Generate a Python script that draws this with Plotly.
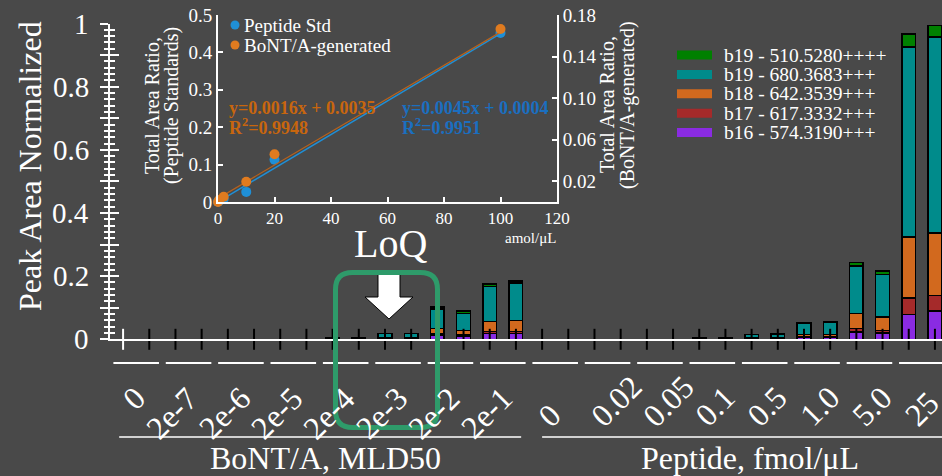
import plotly.graph_objects as go

W, H = 942, 476
def px(x): return x / W
def py(y): return 1 - y / H

FONT = "Liberation Serif"
BG = "#494949"

# ---------------- data ----------------
bont_groups = ["0", "2e-7", "2e-6", "2e-5", "2e-4", "2e-3", "2e-2", "2e-1"]
pep_groups = ["0", "0.02", "0.05", "0.1", "0.5", "1.0", "5.0", "25"]
section_labels = ["BoNT/A, MLD50", "Peptide, fmol/μL"]

series_names = ["b16 - 574.3190+++", "b17 - 617.3332+++", "b18 - 642.3539+++",
                "b19 - 680.3683+++", "b19 - 510.5280++++"]
series_colors = ["#8a2be2", "#a52a2a", "#d2691e", "#008b8b", "#008000"]

# two replicate bars per group; BoNT groups first, then peptide groups
b16_574 = [0, 0, 0, 0, 0, 0, 0, 0, 0.001, 0.001, 0.002, 0.002, 0.013, 0.009, 0.018, 0.018,
           0, 0, 0, 0, 0, 0, 0.001, 0.001, 0.002, 0.002, 0.005, 0.005, 0.023, 0.020, 0.078, 0.089]
b17_617 = [0, 0, 0, 0, 0, 0, 0, 0, 0.0005, 0.0005, 0.001, 0.001, 0.005, 0.004, 0.007, 0.007,
           0, 0, 0, 0, 0, 0, 0.0005, 0.0005, 0.001, 0.001, 0.003, 0.003, 0.011, 0.008, 0.053, 0.050]
b18_642 = [0, 0, 0, 0, 0, 0, 0, 0, 0.0005, 0.0005, 0.002, 0.002, 0.016, 0.015, 0.032, 0.035,
           0, 0, 0, 0, 0, 0, 0.0005, 0.0005, 0.002, 0.002, 0.008, 0.008, 0.047, 0.043, 0.193, 0.197]
b19_680 = [0, 0, 0, 0, 0, 0, 0, 0, 0.001, 0.001, 0.013, 0.013, 0.062, 0.053, 0.111, 0.119,
           0, 0, 0, 0, 0, 0, 0.001, 0.001, 0.010, 0.011, 0.035, 0.039, 0.151, 0.134, 0.601, 0.621]
b19_510 = [0, 0, 0, 0, 0, 0, 0, 0, 0.0005, 0.0005, 0.001, 0.001, 0.006, 0.008, 0.007, 0.005,
           0, 0, 0, 0, 0, 0, 0.0005, 0.0005, 0.001, 0.001, 0.002, 0.002, 0.011, 0.011, 0.042, 0.037]
series_values = [b16_574, b17_617, b18_642, b19_680, b19_510]

y_label_ticks = [0, 0.2, 0.4, 0.6, 0.8, 1.0]
y_label_text = ["0", "0.2", "0.4", "0.6", "0.8", "1"]
y_major_ticks = [0, 0.1, 0.2, 0.3, 0.4, 0.5, 0.6, 0.7, 0.8, 0.9, 1.0]

# inset calibration data
inset_names = ["Peptide Std", "BoNT/A-generated"]
inset_colors = ["#1f8fd6", "#e07b1f"]
conc_amol = [0, 0.4, 2, 10, 20, 100]
ratio_peptide_std = [0.001, 0.003, 0.008, 0.027, 0.113, 0.452]
ratio_bont_gen = [0.0, 0.0019, 0.0051, 0.0195, 0.0459, 0.1665]
fit_peptide_std = (0.0045, 0.0004, 0.9951)
fit_bont_gen = (0.0016, 0.0035, 0.9948)
inset_right_ticks = [0.02, 0.06, 0.10, 0.14, 0.18]

# ---------------- figure ----------------
fig = go.Figure()
groups_all = bont_groups + pep_groups
n_bars = len(b16_574)
bar_x = list(range(n_bars))
group_centers = [2 * g + 0.5 for g in range(len(groups_all))]

for name, color, vals in zip(series_names, series_colors, series_values):
    fig.add_trace(go.Bar(x=bar_x, y=vals, name=name, width=0.52,
                         marker=dict(color=color, line=dict(color="black", width=1.5)),
                         showlegend=False, hoverinfo="skip"))

# tick marks at every bar position (first one white, rest black)
tick_colors = ["white"] + ["black"] * (n_bars - 1)
fig.add_trace(go.Scatter(x=bar_x, y=[0] * n_bars, mode="markers",
                         marker=dict(symbol="line-ns", size=15, color=tick_colors,
                                     line=dict(color=tick_colors, width=2)),
                         showlegend=False, hoverinfo="skip", cliponaxis=False))
# overlay axis carrying inside ticks (so ticks cross the axis line)
fig.add_trace(go.Scatter(x=[None], y=[None], yaxis="y4", showlegend=False, hoverinfo="skip"))

# inset: trend lines and points
xl = [min(conc_amol), max(conc_amol)]
fig.add_trace(go.Scatter(x=xl, y=[fit_bont_gen[0] * v + fit_bont_gen[1] for v in xl],
                         mode="lines", line=dict(color="#b8621c", width=1.2),
                         xaxis="x2", yaxis="y3", showlegend=False, hoverinfo="skip"))
fig.add_trace(go.Scatter(x=xl, y=[fit_peptide_std[0] * v + fit_peptide_std[1] for v in xl],
                         mode="lines", line=dict(color=inset_colors[0], width=1.5),
                         xaxis="x2", yaxis="y2", showlegend=False, hoverinfo="skip"))
fig.add_trace(go.Scatter(x=conc_amol, y=ratio_peptide_std, mode="markers", name=inset_names[0],
                         marker=dict(color=inset_colors[0], size=10),
                         xaxis="x2", yaxis="y2", showlegend=False, cliponaxis=False, hoverinfo="skip"))
fig.add_trace(go.Scatter(x=conc_amol, y=ratio_bont_gen, mode="markers", name=inset_names[1],
                         marker=dict(color=inset_colors[1], size=10),
                         xaxis="x2", yaxis="y3", showlegend=False, cliponaxis=False, hoverinfo="skip"))

inset_font = dict(family=FONT, size=19, color="white")
tick_common = dict(showgrid=False, zeroline=False, tickcolor="white", tickwidth=1.5)

fig.update_layout(
    width=W, height=H, paper_bgcolor=BG, plot_bgcolor="rgba(0,0,0,0)",
    margin=dict(l=0, r=0, t=0, b=0), barmode="stack", showlegend=False,
    font=dict(family=FONT, color="white"),
    xaxis=dict(domain=[px(110), 1], range=[-0.5, 31.27], anchor="y",
               showgrid=False, zeroline=False, showline=True, linecolor="white", linewidth=2,
               tickvals=group_centers, ticks="", showticklabels=False, automargin=False),
    yaxis=dict(domain=[py(339.3), py(23.5)], range=[0, 1], anchor="x",
               showline=True, linecolor="white", linewidth=2,
               tickvals=y_major_ticks, ticks="outside", ticklen=8, showticklabels=False,
               minor=dict(dtick=0.02, ticks="outside", ticklen=4, tickwidth=1.5, tickcolor="white"),
               automargin=False, **tick_common),
    yaxis4=dict(overlaying="y", anchor="x", side="left", range=[0, 1],
                showline=False, tickvals=y_major_ticks, ticks="inside", ticklen=9,
                showticklabels=False,
                minor=dict(dtick=0.02, ticks="inside", ticklen=5, tickwidth=1.5, tickcolor="white"),
                **tick_common),
    xaxis2=dict(domain=[px(218), px(557)], anchor="y2", range=[0, 120], dtick=20,
                showline=True, linecolor="white", linewidth=2,
                ticks="inside", ticklen=5,
                tickfont=dict(family=FONT, size=17, color="white"), automargin=False, **tick_common),
    yaxis2=dict(domain=[py(202), py(15)], anchor="x2", range=[0, 0.5], dtick=0.1,
                showline=True, linecolor="white", linewidth=2,
                ticks="inside", ticklen=5, tickfont=inset_font, automargin=False, **tick_common),
    yaxis3=dict(overlaying="y2", anchor="x2", side="right", range=[0, 0.18],
                tickvals=inset_right_ticks, tickformat=".2f",
                showline=True, linecolor="white", linewidth=2,
                ticks="inside", ticklen=5, tickfont=inset_font, automargin=False, **tick_common),
)

ann = []
shapes = []

def A(text, x, y, size, color="white", xanchor="center", angle=0):
    ann.append(dict(text=text, x=px(x), y=py(y), xref="paper", yref="paper",
                    xanchor=xanchor, yanchor="middle", textangle=angle, showarrow=False,
                    font=dict(family=FONT, size=size, color=color)))

# main y tick labels placed on the y scale
for v, t in zip(y_label_ticks, y_label_text):
    ann.append(dict(text=t, x=px(91), y=v, xref="paper", yref="y", xanchor="right",
                    yanchor="middle", showarrow=False,
                    font=dict(family=FONT, size=29, color="white")))

# group labels (rotated), placed at the group centres on the x scale
for i, (c, t) in enumerate(zip(group_centers, groups_all)):
    if i < len(bont_groups):
        ann.append(dict(text=t, x=c, y=py(377), xref="x", yref="paper", xshift=19,
                        xanchor="right", yanchor="top", textangle=-45, showarrow=False,
                        font=dict(family=FONT, size=32, color="white")))
    else:
        ann.append(dict(text=t, x=c, y=py(436), xref="x", yref="paper", xshift=-27,
                        xanchor="left", yanchor="bottom", textangle=-45, showarrow=False,
                        font=dict(family=FONT, size=32, color="white")))

# main y title
A("Peak Area Normalized", 30, 166, 32, angle=-90)

# x axis line continues slightly left of the y axis
shapes.append(dict(type="line", xref="paper", yref="y", x0=px(103), x1=px(110), y0=0, y1=0,
                   line=dict(color="white", width=2)))

# group dashed segments and section lines
for c in group_centers:
    shapes.append(dict(type="line", xref="x", yref="paper", x0=c - 0.87, x1=c + 0.87,
                       y0=py(363), y1=py(363), line=dict(color="white", width=2)))
nb = len(bont_groups) * 2
shapes.append(dict(type="line", xref="x", yref="paper", x0=-0.15, x1=nb - 0.8,
                   y0=py(437), y1=py(437), line=dict(color="white", width=1.5)))
shapes.append(dict(type="line", xref="x", yref="paper", x0=nb, x1=n_bars + 0.5,
                   y0=py(437), y1=py(437), line=dict(color="white", width=1.5)))
A(section_labels[0], 325, 458, 32)
A(section_labels[1], 750, 458, 32)

# bar legend (manual, wide swatches)
for i, (name, color) in enumerate(zip(series_names[::-1], series_colors[::-1])):
    yc = 55 + 19.4 * i
    shapes.append(dict(type="rect", xref="paper", yref="paper", x0=px(677), x1=px(712),
                       y0=py(yc + 4.5), y1=py(yc - 4.5), fillcolor=color, line=dict(width=0)))
    A(name, 722, yc, 19.5, xanchor="left")

# inset legend
for i, (name, color) in enumerate(zip(inset_names, inset_colors)):
    yc = 25 + 20 * i
    shapes.append(dict(type="circle", xref="paper", yref="paper", xsizemode="pixel",
                       ysizemode="pixel", xanchor=px(235), yanchor=py(yc),
                       x0=-4.5, x1=4.5, y0=-4.5, y1=4.5, fillcolor=color, line=dict(width=0)))
    A(name, 242, yc, 19, xanchor="left")

# inset axis titles
A("Total Area Ratio,", 152, 106, 20, angle=-90)
A("(Peptide Standards)", 171, 106, 20, angle=-90)
A("Total Area Ratio,", 607, 105, 20, angle=-90)
A("(BoNT/A-generated)", 627, 105, 20, angle=-90)
A("amol/μL", 530, 238, 15)

# regression equations
for fit, color, xl0 in [(fit_bont_gen, "#c8660e", 227), (fit_peptide_std, "#1a6fc0", 400)]:
    A("<b>y=%.4fx + %.4f</b>" % (fit[0], fit[1]), xl0, 108, 18, color=color, xanchor="left")
    A("<b>R<sup>2</sup>=%.4f</b>" % fit[2], xl0, 127, 18, color=color, xanchor="left")

# LoQ marker
A("LoQ", 390, 244, 40)

def P(a, b): return "%.5f,%.5f" % (px(a), py(b))

arrow_pts = [(378, 273), (400, 273), (400, 297), (413, 297), (389, 319), (365, 297), (378, 297)]
shapes.append(dict(type="path", xref="paper", yref="paper",
                   path="M" + " L".join(P(a, b) for a, b in arrow_pts) + " Z",
                   fillcolor="white", line=dict(color="black", width=1)))

x0, x1, y0, y1, r = 335.5, 437.5, 272.5, 427.5, 17
rr = ("M" + P(x0 + r, y0) + " L" + P(x1 - r, y0) + " Q" + P(x1, y0) + " " + P(x1, y0 + r) +
      " L" + P(x1, y1 - r) + " Q" + P(x1, y1) + " " + P(x1 - r, y1) +
      " L" + P(x0 + r, y1) + " Q" + P(x0, y1) + " " + P(x0, y1 - r) +
      " L" + P(x0, y0 + r) + " Q" + P(x0, y0) + " " + P(x0 + r, y0) + " Z")
shapes.append(dict(type="path", xref="paper", yref="paper", path=rr,
                   line=dict(color="#2e9b6a", width=5)))

fig.update_layout(annotations=ann, shapes=shapes)
fig.write_html("out.html", config={"displayModeBar": False},
               post_script="document.body.style.margin='0';document.body.style.overflow='hidden';")
